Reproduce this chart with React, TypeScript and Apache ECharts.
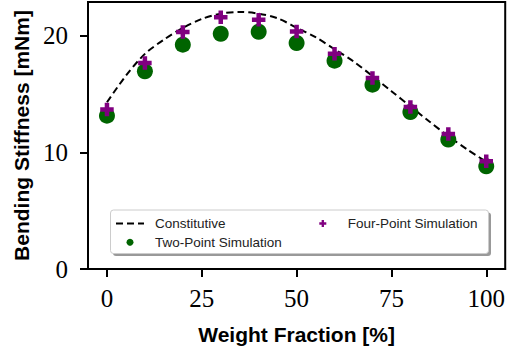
import React, { useEffect, useRef } from "react";
import * as echarts from "echarts";

const weightFraction = [0, 10, 20, 30, 40, 50, 60, 70, 80, 90, 100];
const twoPoint = [13.15, 16.95, 19.24, 20.18, 20.35, 19.38, 17.87, 15.81, 13.47, 11.1, 8.81];
const fourPoint = [13.67, 17.67, 20.33, 21.6, 21.38, 20.38, 18.47, 16.38, 13.9, 11.58, 9.24];
const constitutiveX = [0, 5, 10, 15, 20, 25, 30, 35, 40, 45, 50, 55, 60, 65, 70, 75, 80, 85, 90, 95, 100];
const constitutiveY = [14.3, 16.58, 18.45, 19.67, 20.67, 21.45, 21.9, 22.05, 21.9, 21.5, 20.7, 19.88, 18.85, 17.8, 16.55, 15.25, 13.95, 12.65, 11.4, 10.25, 9.2];
const xTicks = [0, 25, 50, 75, 100];
const yTicks = [0, 10, 20];

const PLUS = "path://M1,0H2V1H3V2H2V3H1V2H0V1H1Z";

export default function App() {
  const ref = useRef<HTMLDivElement>(null);
  useEffect(() => {
    if (!ref.current) return;
    const chart = echarts.init(ref.current, undefined, { renderer: "svg" });
    const serif = "'Liberation Serif', 'DejaVu Serif', serif";
    const sans = "'Liberation Sans', Arial, sans-serif";
    const legendText = { fontFamily: sans, fontSize: 13.5, color: "#222", lineHeight: 14, padding: [0, 0, 0, 6] };
    chart.setOption({
      animation: false,
      backgroundColor: "#fff",
      grid: {
        left: 88,
        right: 0.5,
        top: 2,
        bottom: 80.5,
        show: true,
        borderColor: "#000",
        borderWidth: 2,
        backgroundColor: "transparent",
      },
      xAxis: {
        type: "value",
        min: -5,
        max: 105,
        name: "Weight Fraction [%]",
        nameLocation: "middle",
        nameGap: 55,
        nameTextStyle: { fontFamily: sans, fontWeight: "bold", fontSize: 21, color: "#000" },
        axisLine: { onZero: false, lineStyle: { color: "#000", width: 2 } },
        axisTick: { show: true, length: 8, lineStyle: { color: "#000", width: 2 }, customValues: xTicks },
        axisLabel: { fontFamily: serif, fontSize: 25, color: "#000", margin: 17, customValues: xTicks },
        splitLine: { show: false },
      },
      yAxis: {
        type: "value",
        min: 0,
        max: 22.9,
        name: "Bending Stiffness [mNm]",
        nameLocation: "middle",
        nameGap: 56,
        nameTextStyle: { fontFamily: sans, fontWeight: "bold", fontSize: 21, color: "#000" },
        axisLine: { show: true, onZero: false, lineStyle: { color: "#000", width: 2 } },
        axisTick: { show: true, length: 8, lineStyle: { color: "#000", width: 2 }, customValues: yTicks },
        axisLabel: { fontFamily: serif, fontSize: 25, color: "#000", margin: 20, customValues: yTicks },
        splitLine: { show: false },
      },
      legend: [
        {
          data: [
            { name: "Constitutive", itemStyle: { opacity: 0 } },
            { name: "Two-Point Simulation" },
          ],
          orient: "vertical",
          left: 115,
          top: 216.5,
          padding: 0,
          itemWidth: 28,
          itemHeight: 7,
          itemGap: 4.8,
          symbolKeepAspect: true,
          textStyle: legendText,
          z: 10,
        },
        {
          data: ["Four-Point Simulation"],
          orient: "vertical",
          left: 319.3,
          top: 216.5,
          padding: 0,
          itemWidth: 28,
          itemHeight: 7,
          symbolKeepAspect: true,
          textStyle: legendText,
          z: 10,
        },
      ],
      graphic: [
        {
          type: "rect",
          z: 5,
          shape: { x: 113, y: 212.5, width: 378, height: 43.5, r: 3 },
          style: { fill: "#999", stroke: "none" },
        },
        {
          type: "rect",
          z: 6,
          shape: { x: 110.5, y: 210, width: 378, height: 43.5, r: 3 },
          style: { fill: "#fff", stroke: "#ccc", lineWidth: 1 },
        },
      ],
      series: [
        {
          name: "Constitutive",
          type: "line",
          data: constitutiveX.map((x, i) => [x, constitutiveY[i]]),
          smooth: 0.3,
          symbol: "none",
          lineStyle: { color: "#000", width: 2, type: [7, 4] },
          itemStyle: { color: "#000" },
          z: 2,
        },
        {
          name: "Two-Point Simulation",
          type: "scatter",
          data: weightFraction.map((x, i) => [x, twoPoint[i]]),
          symbol: "circle",
          symbolSize: 16,
          itemStyle: { color: "#006400", opacity: 1 },
          z: 3,
        },
        {
          name: "Four-Point Simulation",
          type: "scatter",
          data: weightFraction.map((x, i) => [x, fourPoint[i]]),
          symbol: PLUS,
          symbolSize: 13.5,
          itemStyle: { color: "#800080", opacity: 1 },
          z: 4,
        },
      ],
    });
    return () => chart.dispose();
  }, []);
  return <div ref={ref} style={{ width: 508, height: 350, position: "absolute", left: 0, top: 0 }} />;
}
